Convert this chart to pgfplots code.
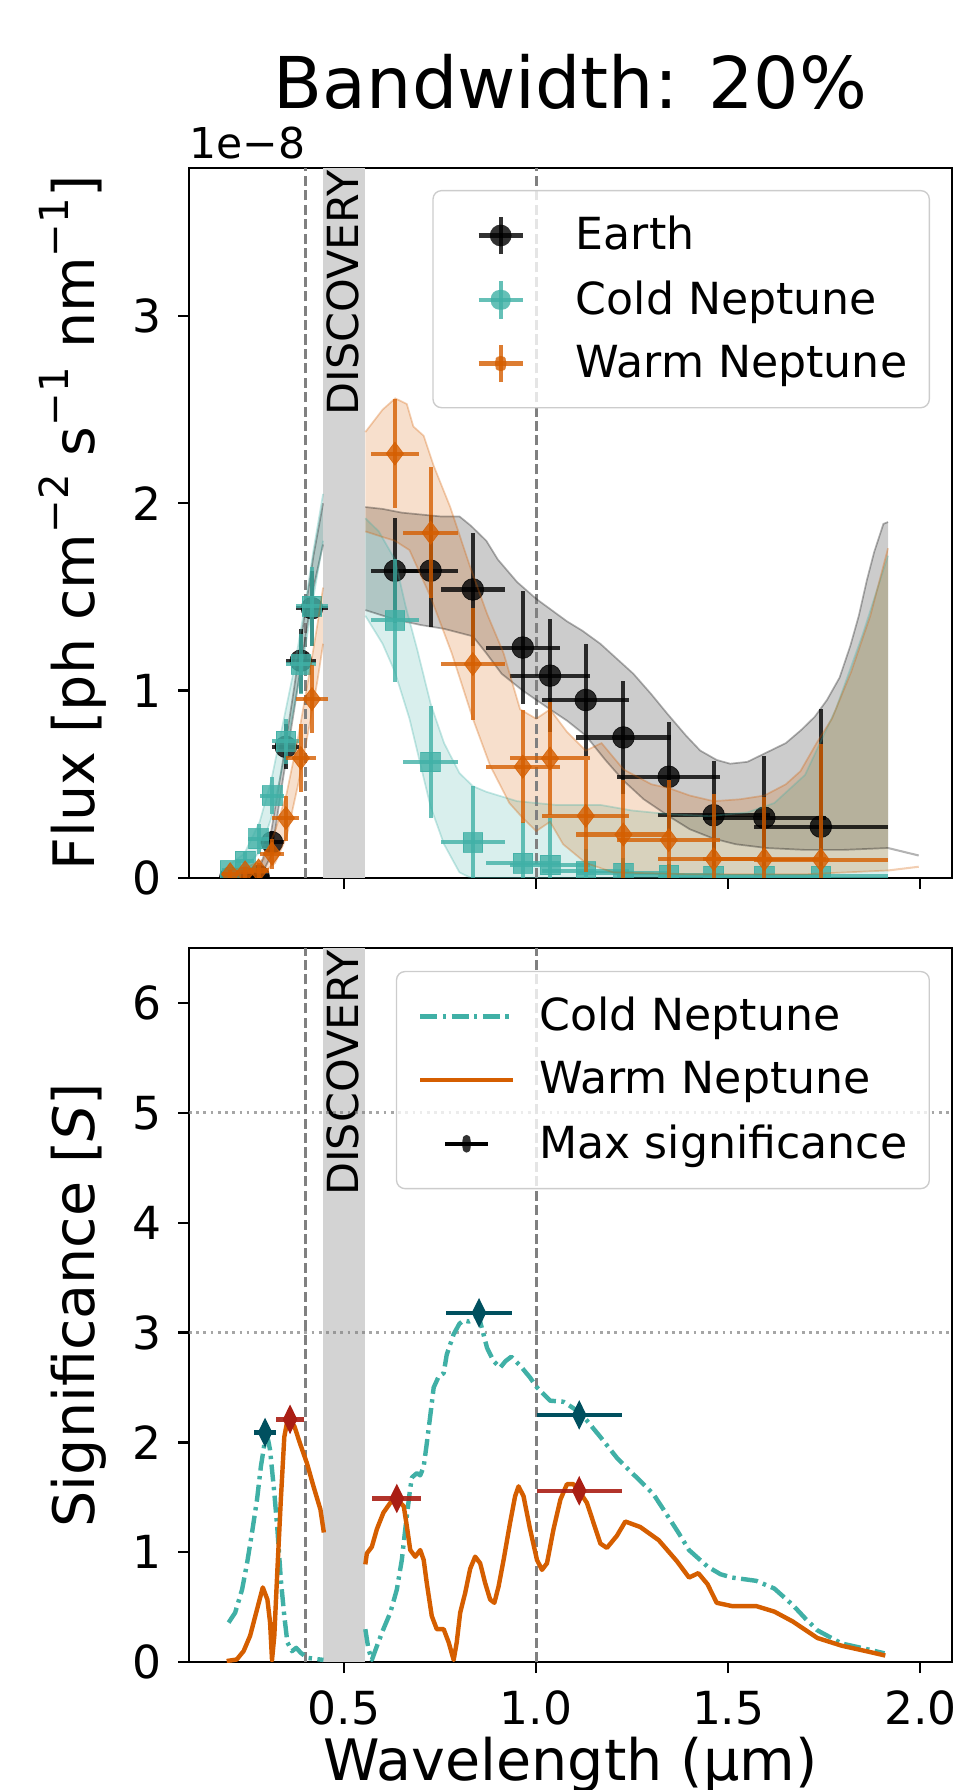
\documentclass[border=0pt]{standalone}
\usepackage{fontspec}
\setmainfont{DejaVu Sans}
\usepackage{pgfplots}
\pgfplotsset{compat=1.18}
\usepgfplotslibrary{fillbetween}

\definecolor{cold}{HTML}{40B0A6}
\definecolor{warm}{HTML}{D55E00}
\definecolor{coldmax}{HTML}{00505F}
\definecolor{warmmax}{HTML}{AA1E14}
\definecolor{discband}{HTML}{D3D3D3}

\newcommand\sups[1]{\raisebox{0.45em}{\fontsize{11.8}{13}\selectfont #1}}
% invisible box that fixes the width of every legend image
\newcommand\legbox{\path[draw=none, fill=none] (-2.5pt,-5.5pt) rectangle (33pt,5.5pt);}

\pgfplotsset{
  panel/.style={
    scale only axis, width=224.4pt,
    xmin=0.096, xmax=2.083,
    axis line style={line width=0.7pt},
    tick align=outside, tick pos=left,
    major tick length=3.2pt,
    tick style={black, line width=0.7pt},
    xtick={0.5,1,1.5,2},
    /pgf/number format/assume math mode=true,
    xticklabel style={yshift=-1.7pt, /pgf/number format/.cd, fixed, fixed zerofill, precision=1},
    yticklabel style={xshift=-1.5pt},
    tick label style={font=\fontsize{13.4}{16}\selectfont},
    label style={font=\fontsize{16.8}{20}\selectfont},
    ylabel style={at={(axis description cs:-0.1243,0.5)}, anchor=base},
    clip marker paths=true,
    legend cell align=left,
    legend style={font=\fontsize{13}{15.6}\selectfont, draw=black!20, fill=white,
      fill opacity=0.8, text opacity=1, rounded corners=2.5pt,
      inner xsep=4.5pt, inner ysep=5.5pt, row sep=3.55pt,
      nodes={inner sep=2pt, text depth=0.15em}},
  },
  vline/.style={gray, line width=0.8pt, dash pattern=on 2.96pt off 1.28pt, forget plot},
  hline/.style={gray, opacity=0.7, line width=0.8pt, dash pattern=on 0.8pt off 1.32pt, forget plot},
  edge/.style={draw=#1, draw opacity=0.3, line width=0.5pt, forget plot},
  bandfill/.style={fill=#1, fill opacity=0.2, draw=none, forget plot},
  ebars/.style={error bars/.cd, x dir=both, x explicit, y dir=both, y explicit,
    error mark=none, error bar style={line width=1.2pt, #1, opacity=0.8}},
}

\begin{document}
\begin{tikzpicture}
\node[font=\fontsize{21}{25}\selectfont, anchor=base] at (112.2pt,457pt) {Bandwidth: 20\%};
\node[font=\fontsize{12.5}{15}\selectfont, anchor=base west, inner sep=0pt] at (0pt,442.3pt) {1e−8};

% ---------------- top panel: flux ----------------
\begin{axis}[panel, at={(0pt,230.6pt)}, anchor=south west, height=208.8pt,
  ymin=0, ymax=3.79, ytick={0,1,2,3}, xticklabels={},
  ylabel={Flux [ph cm\sups{−2} s\sups{−1} nm\sups{−1}]},
  legend style={at={(0.971,0.969)}, anchor=north east}]
\fill[discband] (axis cs:0.445,0) rectangle (axis cs:0.555,3.79);
\node[rotate=90, anchor=east, inner sep=0.5pt, font=\fontsize{12.6}{15}\selectfont] at (axis cs:0.497,3.79) {DISCOVERY};
\addplot[vline] coordinates {(0.4,0) (0.4,3.79)};
\addplot[vline] coordinates {(1.0,0) (1.0,3.79)};

% Earth band
\addplot[edge=black, name path=eul] coordinates {(0.20,0.0) (0.25,0.01) (0.28,0.05) (0.31,0.25) (0.34,0.62) (0.37,1.02) (0.40,1.45) (0.42,1.72) (0.445,2.0)};
\addplot[edge=black, name path=ell] coordinates {(0.20,0.0) (0.25,0.0) (0.28,0.0) (0.31,0.12) (0.34,0.52) (0.37,0.90) (0.40,1.30) (0.42,1.55) (0.445,1.78)};
\addplot[bandfill=black] fill between[of=eul and ell];
\addplot[edge=black, name path=eur] coordinates {(0.555,1.98) (0.60,1.97) (0.65,1.95) (0.70,1.94) (0.75,1.93) (0.80,1.93) (0.83,1.88) (0.87,1.80) (0.90,1.70) (0.95,1.58) (1.00,1.49) (1.04,1.43) (1.08,1.37) (1.12,1.32) (1.167,1.25) (1.21,1.17) (1.253,1.09) (1.30,0.98) (1.34,0.88) (1.39,0.76) (1.427,0.68) (1.47,0.63) (1.505,0.61) (1.55,0.62) (1.60,0.67) (1.65,0.72) (1.69,0.79) (1.725,0.86) (1.757,0.95) (1.79,1.07) (1.818,1.24) (1.84,1.40) (1.861,1.59) (1.88,1.74) (1.904,1.89) (1.916,1.90)};
\addplot[edge=black, name path=erl] coordinates {(0.555,1.43) (0.632,1.38) (0.70,1.35) (0.76,1.33) (0.835,1.29) (0.87,1.20) (0.91,1.09) (0.965,1.00) (1.036,0.90) (1.08,0.84) (1.129,0.76) (1.18,0.63) (1.227,0.52) (1.28,0.42) (1.345,0.33) (1.40,0.26) (1.462,0.21) (1.52,0.18) (1.60,0.16) (1.70,0.15) (1.80,0.15) (1.916,0.16)};
\addplot[bandfill=black] fill between[of=eur and erl];
\addplot[gray, opacity=0.6, line width=0.6pt, forget plot] coordinates {(1.916,0.16) (1.996,0.12)};

% Earth points
\addplot[only marks, mark=*, mark size=3.2pt,
  mark options={fill=black, draw=black, line width=0.2pt, fill opacity=0.8, draw opacity=0.8},
  legend image code/.code={\legbox
    \draw[black, draw opacity=0.8, line width=1.2pt] (6.4pt,0pt) -- (19.4pt,0pt);
    \draw[black, draw opacity=0.8, line width=1.2pt] (12.9pt,-5.5pt) -- (12.9pt,5.5pt);
    \fill[black, fill opacity=0.8, draw=none] (12.9pt,0pt) circle[radius=3.2pt];},
  ebars=black] coordinates {
  (0.203,0.00) +- (0.0203,0.01) (0.242,0.00) +- (0.0242,0.01) (0.277,0.01) +- (0.0277,0.02)
  (0.312,0.19) +- (0.0312,0.06) (0.348,0.70) +- (0.0348,0.12) (0.387,1.16) +- (0.0387,0.17)
  (0.416,1.44) +- (0.0416,0.20) (0.632,1.64) +- (0.0632,0.28) (0.725,1.64) +- (0.0725,0.30)
  (0.835,1.54) +- (0.0835,0.30) (0.965,1.23) +- (0.0965,0.30) (1.036,1.08) +- (0.1036,0.30)
  (1.129,0.95) +- (0.1129,0.30) (1.227,0.75) +- (0.1227,0.30) (1.345,0.54) +- (0.1345,0.29)
  (1.462,0.335) +- (0.1462,0.29) (1.594,0.322) +- (0.1594,0.33) (1.741,0.274) +- (0.1741,0.63)};
\addlegendentry{Earth}

% Cold Neptune band
\addplot[edge=cold, name path=cul] coordinates {(0.20,0.07) (0.24,0.13) (0.28,0.30) (0.31,0.52) (0.34,0.82) (0.37,1.12) (0.40,1.48) (0.42,1.75) (0.445,2.05)};
\addplot[edge=cold, name path=cll] coordinates {(0.20,0.01) (0.24,0.05) (0.28,0.14) (0.31,0.32) (0.34,0.60) (0.37,0.92) (0.40,1.25) (0.42,1.50) (0.445,1.80)};
\addplot[bandfill=cold] fill between[of=cul and cll];
\addplot[edge=cold, name path=cur] coordinates {(0.555,1.92) (0.59,1.85) (0.632,1.70) (0.66,1.45) (0.69,1.22) (0.725,0.93) (0.76,0.72) (0.80,0.56) (0.835,0.49) (0.87,0.46) (0.95,0.41) (1.05,0.39) (1.167,0.39) (1.25,0.36) (1.35,0.34) (1.45,0.33) (1.55,0.35) (1.62,0.40) (1.70,0.55) (1.78,0.90) (1.85,1.30) (1.916,1.72)};
\addplot[edge=cold, name path=crl] coordinates {(0.555,1.40) (0.60,1.25) (0.632,1.10) (0.67,0.85) (0.725,0.38) (0.76,0.18) (0.80,0.03) (0.83,0.0) (1.916,0.0)};
\addplot[bandfill=cold] fill between[of=cur and crl];

% Cold Neptune points
\addplot[only marks, mark=square*, mark size=2.9pt,
  mark options={fill=cold, draw=cold, line width=0.2pt, fill opacity=0.8, draw opacity=0.8},
  legend image code/.code={\legbox
    \draw[cold, draw opacity=0.8, line width=1.2pt] (6.4pt,0pt) -- (19.4pt,0pt);
    \draw[cold, draw opacity=0.8, line width=1.2pt] (12.9pt,-5.5pt) -- (12.9pt,5.5pt);
    \fill[cold, fill opacity=0.8, draw=none] (10pt,-2.9pt) rectangle (15.8pt,2.9pt);},
  ebars=cold] coordinates {
  (0.203,0.04) +- (0.0203,0.03) (0.242,0.09) +- (0.0242,0.05) (0.277,0.21) +- (0.0277,0.08)
  (0.312,0.44) +- (0.0312,0.10) (0.348,0.73) +- (0.0348,0.12) (0.387,1.14) +- (0.0387,0.16)
  (0.416,1.45) +- (0.0416,0.21) (0.632,1.375) +- (0.0632,0.33) (0.725,0.62) +- (0.0725,0.30)
  (0.835,0.19) +- (0.0835,0.30) (0.965,0.08) +- (0.0965,0.22) (1.036,0.07) +- (0.1036,0.25)
  (1.129,0.035) +- (0.1129,0.12) (1.227,0.025) +- (0.1227,0.08) (1.345,0.015) +- (0.1345,0.06)
  (1.462,0.01) +- (0.1462,0.05) (1.594,0.01) +- (0.1594,0.05) (1.741,0.01) +- (0.1741,0.05)};
\addlegendentry{Cold Neptune}

% Warm Neptune band
\addplot[edge=warm, name path=wul] coordinates {(0.20,0.04) (0.25,0.06) (0.29,0.10) (0.32,0.25) (0.35,0.45) (0.38,0.75) (0.41,1.10) (0.43,1.35) (0.445,1.55)};
\addplot[edge=warm, name path=wll] coordinates {(0.20,0.0) (0.25,0.01) (0.29,0.03) (0.32,0.08) (0.35,0.22) (0.38,0.50) (0.41,0.82) (0.43,1.05) (0.445,1.25)};
\addplot[bandfill=warm] fill between[of=wul and wll];
\addplot[edge=warm, name path=wur] coordinates {(0.555,2.38) (0.60,2.50) (0.633,2.56) (0.663,2.53) (0.68,2.41) (0.707,2.36) (0.733,2.20) (0.776,1.98) (0.828,1.66) (0.872,1.41) (0.915,1.20) (0.958,0.90) (1.00,0.85) (1.036,0.90) (1.08,0.78) (1.129,0.68) (1.17,0.72) (1.227,0.58) (1.30,0.50) (1.345,0.48) (1.40,0.44) (1.462,0.41) (1.53,0.42) (1.594,0.44) (1.65,0.50) (1.688,0.57) (1.73,0.72) (1.77,0.85) (1.82,1.10) (1.87,1.40) (1.916,1.76)};
\addplot[edge=warm, name path=wrl] coordinates {(0.555,1.85) (0.60,1.82) (0.632,1.80) (0.67,1.75) (0.725,1.50) (0.78,1.20) (0.835,0.85) (0.88,0.60) (0.93,0.40) (0.965,0.32) (1.00,0.25) (1.036,0.30) (1.07,0.18) (1.129,0.08) (1.20,0.03) (1.40,0.02) (1.70,0.02) (1.916,0.04)};
\addplot[bandfill=warm] fill between[of=wur and wrl];
\addplot[warm, opacity=0.3, line width=0.6pt, forget plot] coordinates {(1.916,0.04) (1.996,0.06)};

% Warm Neptune points
\addplot[only marks, mark=diamond*, mark size=3.4pt,
  mark options={fill=warm, draw=warm, line width=0.2pt, fill opacity=0.8, draw opacity=0.8},
  legend image code/.code={\legbox
    \draw[warm, draw opacity=0.8, line width=1.2pt] (6.4pt,0pt) -- (19.4pt,0pt);
    \draw[warm, draw opacity=0.8, line width=1.2pt] (12.9pt,-5.5pt) -- (12.9pt,5.5pt);
    \fill[warm, fill opacity=0.8, draw=none] (12.9pt,3.4pt) -- (15.45pt,0pt) -- (12.9pt,-3.4pt) -- (10.35pt,0pt) -- cycle;},
  ebars=warm] coordinates {
  (0.203,0.02) +- (0.0203,0.02) (0.242,0.03) +- (0.0242,0.03) (0.277,0.04) +- (0.0277,0.04)
  (0.312,0.13) +- (0.0312,0.08) (0.348,0.32) +- (0.0348,0.12) (0.387,0.64) +- (0.0387,0.18)
  (0.416,0.955) +- (0.0416,0.18) (0.632,2.265) +- (0.0632,0.29) (0.725,1.843) +- (0.0725,0.35)
  (0.835,1.142) +- (0.0835,0.30) (0.965,0.594) +- (0.0965,0.30) (1.036,0.638) +- (0.1036,0.30)
  (1.129,0.332) +- (0.1129,0.30) (1.227,0.232) +- (0.1227,0.29) (1.345,0.202) +- (0.1345,0.32)
  (1.462,0.10) +- (0.1462,0.35) (1.594,0.10) +- (0.1594,0.33) (1.741,0.097) +- (0.1741,0.62)};
\addlegendentry{Warm Neptune}
\end{axis}

% ---------------- bottom panel: significance ----------------
\begin{axis}[panel, at={(0pt,0pt)}, anchor=south west, height=210pt,
  ymin=0, ymax=6.5, ytick={0,1,2,3,4,5,6},
  xlabel={Wavelength (µm)},
  xlabel style={at={(axis description cs:0.5,0)}, anchor=base, yshift=-34.8pt},
  ylabel={Significance [\textit{S}]},
  legend style={at={(0.971,0.968)}, anchor=north east}]
\fill[discband] (axis cs:0.445,0) rectangle (axis cs:0.555,6.5);
\node[rotate=90, anchor=east, inner sep=0.5pt, font=\fontsize{12.6}{15}\selectfont] at (axis cs:0.497,6.5) {DISCOVERY};
\addplot[vline] coordinates {(0.4,0) (0.4,6.5)};
\addplot[vline] coordinates {(1.0,0) (1.0,6.5)};
\addplot[hline] coordinates {(0.096,3) (2.083,3)};
\addplot[hline] coordinates {(0.096,5) (2.083,5)};

\addplot[cold, line width=1.3pt, line join=round, dash pattern=on 5pt off 1.6pt on 1pt off 1.6pt,
  legend image code/.code={\legbox
    \draw[cold, line width=1.3pt, dash pattern=on 5pt off 1.6pt on 1pt off 1.6pt] (0pt,0pt) -- (27.3pt,0pt);}]
  coordinates {(0.199,0.36) (0.216,0.45) (0.234,0.66) (0.247,0.90) (0.260,1.18) (0.273,1.48) (0.283,1.78) (0.292,1.98) (0.297,2.05) (0.302,2.02) (0.307,1.93) (0.318,1.54) (0.326,1.21) (0.335,0.75) (0.344,0.42) (0.352,0.18) (0.364,0.10) (0.375,0.13) (0.387,0.085) (0.403,0.04) (0.424,0.03) (0.446,0.02)};
\addlegendentry{Cold Neptune}
\addplot[cold, line width=1.3pt, line join=round, dash pattern=on 5pt off 1.6pt on 1pt off 1.6pt, forget plot]
  coordinates {(0.555,0.30) (0.563,0.12) (0.572,0.02) (0.585,0.145) (0.602,0.30) (0.620,0.45) (0.637,0.66) (0.650,0.93) (0.659,1.21) (0.670,1.53) (0.676,1.68) (0.689,1.72) (0.698,1.70) (0.707,1.78) (0.715,1.99) (0.724,2.24) (0.733,2.50) (0.746,2.60) (0.759,2.63) (0.767,2.80) (0.785,2.985) (0.800,3.08) (0.811,3.11) (0.825,3.10) (0.837,3.12) (0.850,3.15) (0.860,3.02) (0.872,2.86) (0.889,2.74) (0.906,2.68) (0.920,2.74) (0.935,2.78) (0.958,2.70) (0.984,2.59) (1.002,2.50) (1.019,2.44) (1.036,2.38) (1.071,2.37) (1.115,2.27) (1.167,2.05) (1.210,1.86) (1.253,1.71) (1.305,1.53) (1.335,1.37) (1.370,1.18) (1.398,1.02) (1.446,0.87) (1.480,0.80) (1.510,0.77) (1.573,0.74) (1.620,0.67) (1.668,0.52) (1.700,0.40) (1.732,0.29) (1.795,0.17) (1.859,0.12) (1.907,0.08)};

\addplot[warm, line width=1.3pt, line join=round,
  legend image code/.code={\legbox
    \draw[warm, line width=1.3pt] (0pt,0pt) -- (27.3pt,0pt);}]
  coordinates {(0.194,0.01) (0.220,0.024) (0.238,0.10) (0.255,0.24) (0.273,0.48) (0.288,0.68) (0.300,0.57) (0.307,0.36) (0.312,0.02) (0.318,0.24) (0.326,0.84) (0.335,1.48) (0.344,2.05) (0.351,2.18) (0.359,2.19) (0.370,2.15) (0.385,1.99) (0.403,1.81) (0.420,1.60) (0.438,1.39) (0.447,1.18)};
\addlegendentry{Warm Neptune}
\addplot[warm, line width=1.3pt, line join=round, forget plot]
  coordinates {(0.555,0.89) (0.559,0.99) (0.572,1.05) (0.585,1.21) (0.602,1.36) (0.620,1.45) (0.637,1.48) (0.655,1.42) (0.663,1.24) (0.672,1.02) (0.685,0.96) (0.698,1.02) (0.707,0.93) (0.715,0.72) (0.728,0.42) (0.741,0.30) (0.759,0.30) (0.772,0.18) (0.785,0.02) (0.793,0.18) (0.802,0.45) (0.815,0.63) (0.828,0.85) (0.841,0.96) (0.854,0.90) (0.867,0.72) (0.880,0.57) (0.891,0.54) (0.902,0.69) (0.915,0.93) (0.932,1.27) (0.945,1.51) (0.954,1.60) (0.967,1.51) (0.984,1.21) (1.002,0.93) (1.015,0.84) (1.028,0.90) (1.045,1.21) (1.063,1.48) (1.080,1.62) (1.097,1.62) (1.115,1.54) (1.132,1.45) (1.149,1.27) (1.167,1.08) (1.184,1.04) (1.210,1.15) (1.232,1.28) (1.271,1.23) (1.319,1.11) (1.366,0.92) (1.398,0.77) (1.422,0.81) (1.446,0.71) (1.470,0.54) (1.510,0.51) (1.573,0.51) (1.620,0.46) (1.668,0.37) (1.732,0.22) (1.795,0.15) (1.859,0.10) (1.909,0.06)};

% maxima
\addplot[only marks, mark=diamond*, mark size=3.9pt, forget plot,
  mark options={xscale=0.66, fill=coldmax, draw=coldmax},
  error bars/.cd, x dir=both, x explicit, error mark=none,
  error bar style={line width=1.3pt, coldmax}]
  coordinates {(0.294,2.09) +- (0.029,0) (0.851,3.18) +- (0.085,0) (1.112,2.25) +- (0.111,0)};
\addplot[only marks, mark=diamond*, mark size=3.9pt, forget plot,
  mark options={xscale=0.66, fill=warmmax, draw=warmmax},
  error bars/.cd, x dir=both, x explicit, error mark=none,
  error bar style={line width=1.3pt, warmmax, opacity=0.9}]
  coordinates {(0.359,2.21) +- (0.036,0) (0.637,1.49) +- (0.064,0) (1.112,1.56) +- (0.111,0)};
\addlegendimage{legend image code/.code={\legbox
    \draw[black, line width=1.3pt] (7.3pt,0pt) -- (19.9pt,0pt);
    \fill[black, draw=none] (13.6pt,3.9pt) -- (15.55pt,0pt) -- (13.6pt,-3.9pt) -- (11.65pt,0pt) -- cycle;}}
\addlegendentry{Max significance}
\end{axis}

\pgfresetboundingbox
\path[use as bounding box] (-55.6pt,-37.6pt) rectangle (225.6pt,488.8pt);
\end{tikzpicture}
\end{document}
